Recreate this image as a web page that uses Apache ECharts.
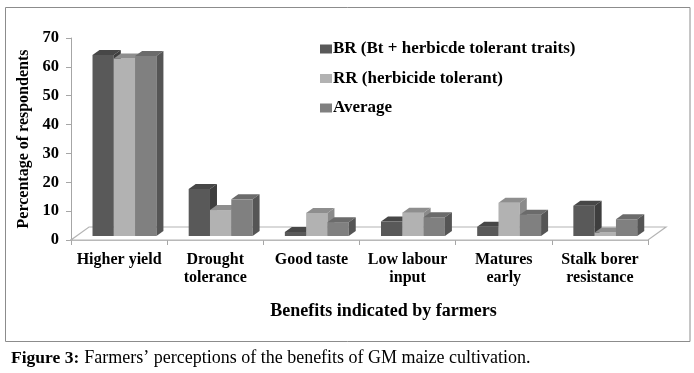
<!DOCTYPE html>
<html>
<head>
<meta charset="utf-8">
<script src="https://cdn.jsdelivr.net/npm/echarts@6/dist/echarts.min.js"></script>
<style>
html,body{margin:0;padding:0;background:#fff;}
#chart{width:694px;height:373px;}
</style>
</head>
<body>
<div id="chart"></div>
<script>
var categories = ['Higher yield', 'Drought\ntolerance', 'Good taste', 'Low labour\ninput', 'Matures\nearly', 'Stalk borer\nresistance'];
var seriesNames = ['BR (Bt + herbicde tolerant traits)', 'RR (herbicide tolerant)', 'Average'];
var brValues = [62.7, 16.3, 1.4, 5.0, 3.2, 10.5];
var rrValues = [61.5, 9.0, 8.0, 8.1, 11.5, 1.2];
var avgValues = [62.4, 12.7, 4.8, 6.5, 7.4, 5.8];
var yTicks = [0, 10, 20, 30, 40, 50, 60, 70];

var FONT = '"Liberation Serif", "Times New Roman", serif';
var faces = [
  {front: '#595959', top: '#474747', side: '#3e3e3e'},
  {front: '#b2b2b2', top: '#8e8e8e', side: '#8a8a8a'},
  {front: '#808080', top: '#6b6b6b', side: '#555555'}
];
var allValues = [brValues, rrValues, avgValues];

function barRenderer(idx) {
  return function (params, api) {
    var cat = api.value(0), val = api.value(1);
    var p0 = api.coord([cat, 0]);
    var p1 = api.coord([cat, val]);
    var band = api.size([1, 0])[0];
    var bw = band * 0.2215;
    var ox = band * 0.056, oy = -4;
    var dx = 7, dy = -5;
    var x0 = p0[0] - 1.5 * bw + idx * bw + ox;
    var yb = p0[1] + oy, yt = p1[1] + oy;
    var f = faces[idx];
    return {
      type: 'group',
      children: [
        {type: 'rect', shape: {x: x0, y: yt, width: bw, height: yb - yt}, style: {fill: f.front}},
        {type: 'polygon', shape: {points: [[x0, yt], [x0 + bw, yt], [x0 + bw + dx, yt + dy], [x0 + dx, yt + dy]]}, style: {fill: f.top}},
        {type: 'polygon', shape: {points: [[x0 + bw, yt], [x0 + bw + dx, yt + dy], [x0 + bw + dx, yb + dy], [x0 + bw, yb]]}, style: {fill: f.side}}
      ]
    };
  };
}

function floorRenderer(params, api) {
  var cs = params.coordSys;
  var xl = cs.x, xr = cs.x + cs.width, yf = cs.y + cs.height;
  var dx = 18, dy = -13;
  return {
    type: 'polygon',
    shape: {points: [[xl, yf], [xr, yf], [xr + dx, yf + dy], [xl + dx, yf + dy]]},
    style: {fill: '#ffffff', stroke: '#b4b4b4', lineWidth: 1.2}
  };
}

var series = [{
  type: 'custom', name: 'floor', renderItem: floorRenderer, data: [[0]], silent: true, z: 1
}];
allValues.forEach(function (vals, i) {
  series.push({
    type: 'custom',
    name: seriesNames[i],
    renderItem: barRenderer(i),
    itemStyle: {color: faces[i].front},
    encode: {x: 0, y: 1},
    data: vals.map(function (v, k) { return [k, v]; }),
    z: 3
  });
});

var chart = echarts.init(document.getElementById('chart'));
chart.setOption({
  animation: false,
  backgroundColor: '#ffffff',
  grid: {left: 71, right: 46, top: 38, bottom: 133},
  title: {
    left: 6, top: 344,
    text: '{b|Figure 3:} {n|Farmers\u2019 perceptions of the benefits of GM maize cultivation.}',
    textStyle: {
      rich: {
        b: {fontFamily: FONT, fontWeight: 'bold', fontSize: 17.5, color: '#000'},
        n: {fontFamily: FONT, fontWeight: 'normal', fontSize: 18, color: '#000'}
      }
    }
  },
  legend: {
    orient: 'vertical', left: 315, top: 35,
    data: seriesNames,
    icon: 'rect', itemWidth: 12, itemHeight: 9, itemGap: 11.5,
    textStyle: {fontFamily: FONT, fontWeight: 'bold', fontSize: 17, color: '#000', lineHeight: 18, padding: [0, 0, 0, -4]}
  },
  xAxis: {
    type: 'category', data: categories,
    axisLine: {lineStyle: {color: '#a6a6a6', width: 1.5}},
    axisTick: {show: true, length: 5, lineStyle: {color: '#a6a6a6'}},
    axisLabel: {fontFamily: FONT, fontWeight: 'bold', fontSize: 16, color: '#000', lineHeight: 18, margin: 11, interval: 0}
  },
  yAxis: {
    type: 'value', min: 0, max: 70, interval: 10,
    name: 'Percentage of respondents', nameLocation: 'middle', nameGap: 31, nameRotate: 90,
    nameTextStyle: {fontFamily: FONT, fontWeight: 'bold', fontSize: 16, color: '#000'},
    axisLine: {show: true, lineStyle: {color: '#a6a6a6'}},
    axisTick: {show: true, length: 5, lineStyle: {color: '#a6a6a6'}},
    splitLine: {show: false},
    axisLabel: {fontFamily: FONT, fontWeight: 'bold', fontSize: 16.5, color: '#000', margin: 12,
      formatter: function (v) { return yTicks.indexOf(v) >= 0 ? String(v) : ''; }}
  },
  graphic: [
    {type: 'rect', shape: {x: 5.5, y: 7.5, width: 684.5, height: 334}, style: {fill: 'none', stroke: '#8c8c8c', lineWidth: 1}, z: 0, silent: true},
    {type: 'text', x: 383.5, y: 311, style: {text: 'Benefits indicated by farmers', font: 'bold 18px ' + FONT, fill: '#000', align: 'center', verticalAlign: 'middle'}}
  ],
  series: series
});
</script>
</body>
</html>
